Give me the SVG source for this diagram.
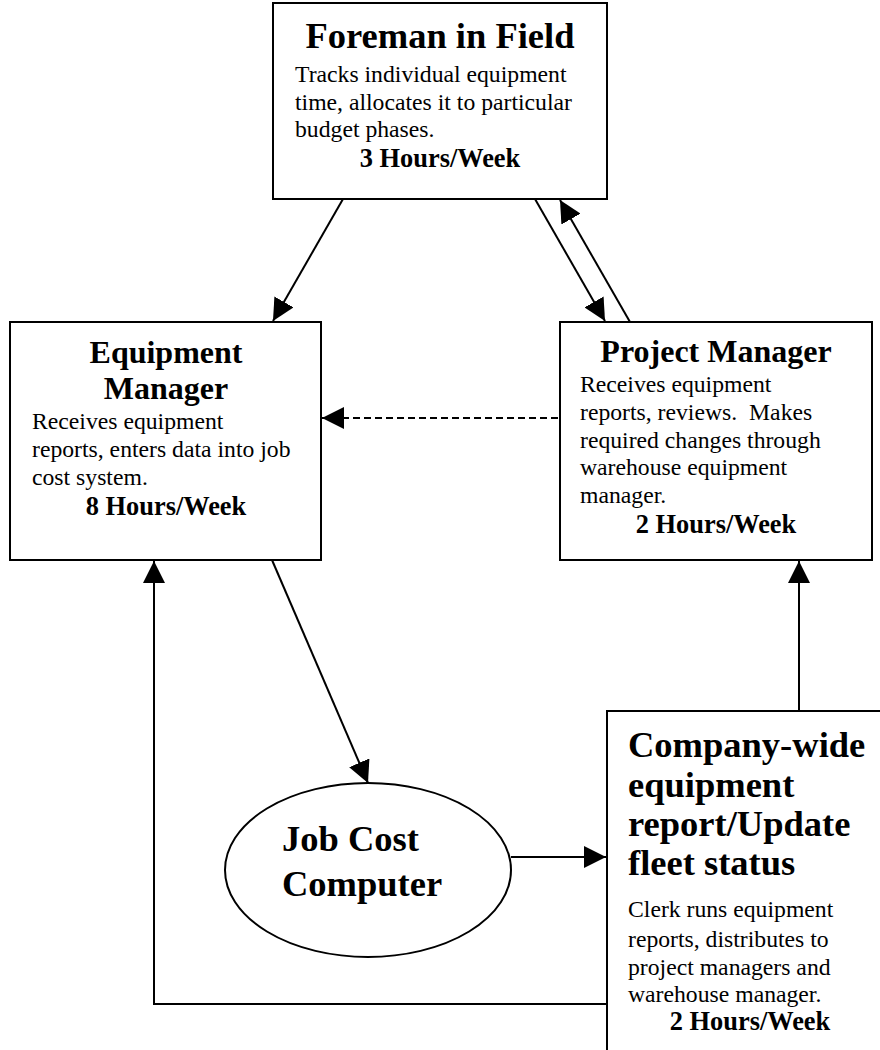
<svg xmlns="http://www.w3.org/2000/svg" width="880" height="1050" viewBox="0 0 880 1050">
  <style>
    .box { fill: #ffffff; stroke: #000000; stroke-width: 2; }
    .title { font-family: "Liberation Serif", "Times New Roman", serif; font-weight: bold; font-size: 32px; fill: #000; }
    .big { font-family: "Liberation Serif", "Times New Roman", serif; font-weight: bold; font-size: 36.5px; fill: #000; }
    .body { font-family: "Liberation Serif", "Times New Roman", serif; font-size: 23.7px; fill: #000; }
    .hours { font-family: "Liberation Serif", "Times New Roman", serif; font-weight: bold; font-size: 26.4px; fill: #000; }
    .mid { text-anchor: middle; }
    .link { fill: none; stroke: #000000; stroke-width: 2; marker-end: url(#arrow); }
    .dashed { stroke-dasharray: 7 4; }
  </style>
  <defs>
    <marker id="arrow" markerUnits="userSpaceOnUse" markerWidth="22" markerHeight="22" viewBox="0 0 20 20" refX="20" refY="10" orient="auto">
      <path d="M0,0 L20,10 L0,20 z" fill="#000000"/>
    </marker>
  </defs>

  <rect width="880" height="1050" fill="#ffffff"/>

  <!-- Foreman in Field -->
  <g id="foreman">
    <rect class="box" x="273" y="3" width="334" height="196"/>
    <text class="big mid" x="440" y="48">Foreman in Field</text>
    <text class="body" x="295" y="82">Tracks individual equipment</text>
    <text class="body" x="295" y="110">time, allocates it to particular</text>
    <text class="body" x="295" y="137">budget phases.</text>
    <text class="hours mid" x="440" y="167">3 Hours/Week</text>
  </g>

  <!-- Equipment Manager -->
  <g id="equipment-manager">
    <rect class="box" x="10" y="322" width="311" height="238"/>
    <text class="title mid" x="166" y="363">Equipment</text>
    <text class="title mid" x="166" y="399">Manager</text>
    <text class="body" x="32" y="429">Receives equipment</text>
    <text class="body" x="32" y="457">reports, enters data into job</text>
    <text class="body" x="32" y="485">cost system.</text>
    <text class="hours mid" x="166" y="515">8 Hours/Week</text>
  </g>

  <!-- Project Manager -->
  <g id="project-manager">
    <rect class="box" x="560" y="322" width="312" height="238"/>
    <text class="title mid" x="716" y="362">Project Manager</text>
    <text class="body" x="580" y="392">Receives equipment</text>
    <text class="body" x="580" y="420" xml:space="preserve">reports, reviews.  Makes</text>
    <text class="body" x="580" y="448">required changes through</text>
    <text class="body" x="580" y="475">warehouse equipment</text>
    <text class="body" x="580" y="503">manager.</text>
    <text class="hours mid" x="716" y="533">2 Hours/Week</text>
  </g>

  <!-- Job Cost Computer -->
  <g id="job-cost-computer">
    <ellipse class="box" cx="368" cy="870" rx="143" ry="87"/>
    <text class="big" x="282" y="851">Job Cost</text>
    <text class="big" x="282" y="896">Computer</text>
  </g>

  <!-- Company-wide equipment report -->
  <g id="company-report">
    <rect class="box" x="607" y="711" width="300" height="400"/>
    <text class="big" x="628" y="757">Company-wide</text>
    <text class="big" x="628" y="797">equipment</text>
    <text class="big" x="628" y="836">report/Update</text>
    <text class="big" x="628" y="875">fleet status</text>
    <text class="body" x="628" y="917">Clerk runs equipment</text>
    <text class="body" x="628" y="947">reports, distributes to</text>
    <text class="body" x="628" y="975">project managers and</text>
    <text class="body" x="628" y="1002">warehouse manager.</text>
    <text class="hours mid" x="750" y="1030">2 Hours/Week</text>
  </g>

  <!-- Connectors -->
  <g id="connectors">
    <line class="link" x1="343" y1="199" x2="273" y2="321"/>
    <line class="link" x1="535" y1="199" x2="605" y2="321"/>
    <line class="link" x1="630" y1="322" x2="560" y2="200"/>
    <line class="link dashed" x1="558" y1="418" x2="322" y2="418"/>
    <line class="link" x1="272" y1="560" x2="368" y2="783"/>
    <line class="link" x1="511" y1="857" x2="606" y2="857"/>
    <line class="link" x1="799" y1="711" x2="799" y2="561"/>
    <polyline class="link" points="607,1004 154,1004 154,561"/>
  </g>
</svg>
